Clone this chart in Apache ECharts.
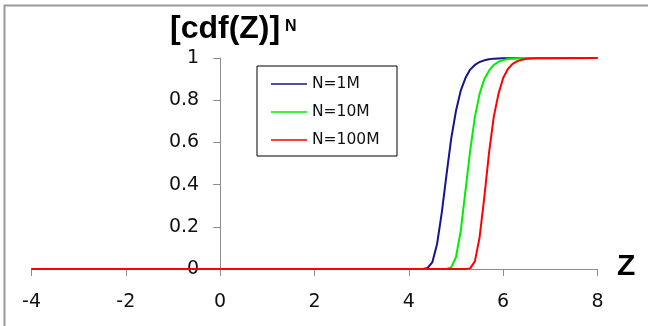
<!DOCTYPE html>
<html>
<head>
<meta charset="utf-8">
<script src="https://cdn.jsdelivr.net/npm/echarts@6/dist/echarts.min.js"></script>
<style>
  html, body { margin: 0; padding: 0; background: #fff; }
  #chart { width: 648px; height: 326px; }
</style>
</head>
<body>
<div id="chart"></div>
<script>
// [cdf(Z)]^N for three sample sizes, Z on the horizontal axis
const seriesNames = ['N=1M', 'N=10M', 'N=100M'];

const zBlue   = [-4, 4.2, 4.3, 4.4, 4.5, 4.6, 4.7, 4.8, 4.9, 5.0, 5.1, 5.2, 5.3, 5.4, 5.5, 5.6, 5.7, 5.8, 5.9, 6.0, 8];
const cdfBlue = [0, 0, 0.0002, 0.005, 0.033, 0.12, 0.27, 0.45, 0.62, 0.75, 0.845, 0.905, 0.945, 0.967, 0.981, 0.989, 0.994, 0.997, 0.998, 0.999, 1];

const zGreen   = [-4, 4.7, 4.8, 4.9, 5.0, 5.1, 5.2, 5.3, 5.4, 5.5, 5.6, 5.7, 5.8, 5.9, 6.0, 6.1, 6.2, 6.3, 6.4, 8];
const cdfGreen = [0, 0, 0.0004, 0.008, 0.057, 0.18, 0.37, 0.56, 0.72, 0.83, 0.90, 0.94, 0.967, 0.982, 0.99, 0.995, 0.997, 0.999, 1, 1];

const zRed   = [-4, 5.1, 5.2, 5.3, 5.4, 5.5, 5.6, 5.7, 5.8, 5.9, 6.0, 6.1, 6.2, 6.3, 6.4, 6.5, 6.6, 6.7, 8];
const cdfRed = [0, 0, 0.0001, 0.003, 0.036, 0.15, 0.34, 0.55, 0.72, 0.83, 0.905, 0.948, 0.972, 0.985, 0.992, 0.996, 0.998, 0.999, 1];

const xTicks = { min: -4, max: 8, step: 2 };
const yTicks = { min: 0, max: 1, step: 0.2 };

const colors = ['#14148c', '#00ee00', '#ff0000'];

function pairs(xs, ys) { return xs.map((x, i) => [x, ys[i]]); }

const axisGray = '#8c8c8c';
const labelFont = 'DejaVu Sans';

// plot box
const W = 648, gridLeft = 31.5, gridRight = 50.5;
const plotW = W - gridLeft - gridRight;
// the vertical axis sits on Z = 0, so shift it in from the left edge
const yAxisShift = plotW * (0 - xTicks.min) / (xTicks.max - xTicks.min);

const chart = echarts.init(document.getElementById('chart'), null, { renderer: 'canvas' });

chart.setOption({
  animation: false,
  backgroundColor: '#fff',
  grid: {
    left: gridLeft, right: gridRight, top: 58, bottom: 57,
    containLabel: false, outerBoundsMode: 'none'
  },
  xAxis: {
    type: 'value',
    min: xTicks.min, max: xTicks.max, interval: xTicks.step,
    axisLine: { show: true, onZero: false, lineStyle: { color: axisGray, width: 1 } },
    axisTick: { show: true, inside: false, length: 7, lineStyle: { color: axisGray } },
    axisLabel: { margin: 24, color: '#111', fontFamily: labelFont, fontSize: 19 },
    splitLine: { show: false }
  },
  yAxis: {
    type: 'value',
    position: 'left',
    offset: -yAxisShift,
    min: yTicks.min, max: yTicks.max, interval: yTicks.step,
    axisLine: { show: true, onZero: false, lineStyle: { color: axisGray, width: 1 } },
    axisTick: { show: true, inside: false, length: 7, lineStyle: { color: axisGray } },
    axisLabel: { margin: 21, color: '#111', fontFamily: labelFont, fontSize: 19 },
    splitLine: { show: false }
  },
  legend: {
    data: seriesNames,
    orient: 'vertical',
    left: 257, top: 66,
    icon: 'rect',
    itemWidth: 36, itemHeight: 1.5,
    itemGap: 12,
    padding: [10, 10, 8, 14],
    borderColor: '#000', borderWidth: 1,
    textStyle: { fontFamily: labelFont, fontSize: 15.5, color: '#111', lineHeight: 16, width: 75 }
  },
  series: [
    { name: seriesNames[0], data: pairs(zBlue, cdfBlue), color: colors[0] },
    { name: seriesNames[1], data: pairs(zGreen, cdfGreen), color: colors[1] },
    { name: seriesNames[2], data: pairs(zRed, cdfRed), color: colors[2] }
  ].map(s => Object.assign({
    type: 'line',
    showSymbol: false,
    symbol: 'none',
    lineStyle: { width: 2, color: s.color },
    itemStyle: { color: s.color }
  }, s)),
  graphic: [
    {
      type: 'rect', silent: true, z: -1,
      shape: { x: 4.5, y: 5.5, width: 700, height: 400 },
      style: { fill: 'none', stroke: '#999', lineWidth: 2 }
    },
    {
      type: 'text', left: 170, top: 13,
      style: { text: '[cdf(Z)]', fontFamily: 'Liberation Sans', fontWeight: 'bold', fontSize: 32, fill: '#000' }
    },
    {
      type: 'text', left: 285, top: 19,
      style: { text: 'N', fontFamily: 'Liberation Sans', fontWeight: 'bold', fontSize: 16, fill: '#000' }
    },
    {
      type: 'text', left: 617, top: 252,
      style: { text: 'Z', fontFamily: 'Liberation Sans', fontWeight: 'bold', fontSize: 30, fill: '#000' }
    }
  ]
});
</script>
</body>
</html>
